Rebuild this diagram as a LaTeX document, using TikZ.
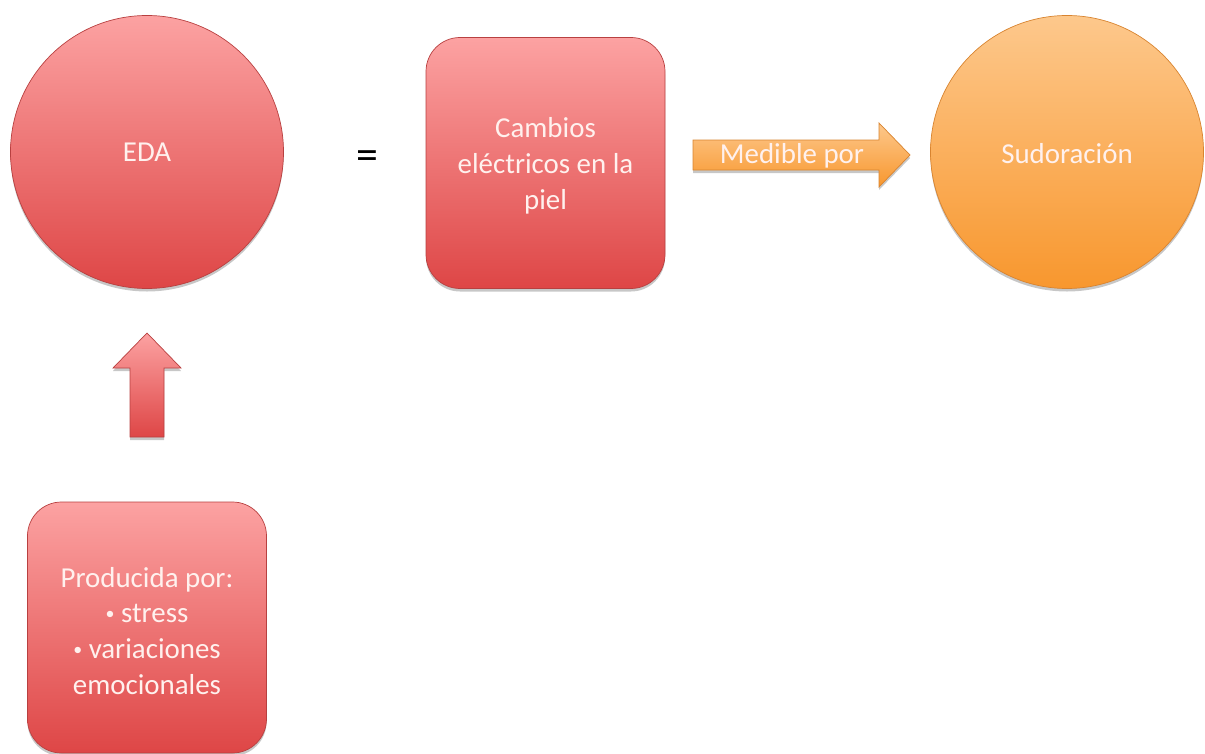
\documentclass[tikz,border=0pt]{standalone}
\usepackage{fontspec}
\usepackage{graphicx}
\setmainfont{Carlito}
\usetikzlibrary{shadows}
\definecolor{redtop}{HTML}{FCA2A2}
\definecolor{redbot}{HTML}{DE4646}
\definecolor{redline}{HTML}{B84040}
\definecolor{ortop}{HTML}{FDC88C}
\definecolor{orbot}{HTML}{F8972E}
\definecolor{orline}{HTML}{D88430}
\definecolor{txt}{HTML}{FFF1EE}
\newcommand{\smallbul}{\raisebox{0.13em}{\scalebox{0.62}{•}}}
\tikzset{
  redfill/.style={top color=redtop, bottom color=redbot, draw=redline, line width=0.7bp,
    drop shadow={shadow xshift=0bp, shadow yshift=-3bp, opacity=0.22, fill=black}},
  orfill/.style={top color=ortop, bottom color=orbot, draw=orline, line width=0.7bp,
    drop shadow={shadow xshift=0bp, shadow yshift=-3bp, opacity=0.22, fill=black}},
  lbl/.style={text=txt, font=\fontsize{29}{36}\selectfont, align=center},
  bigcircle/.style={circle, minimum size=273bp, inner sep=0pt},
  roundbox/.style={rectangle, rounded corners=34bp, minimum width=239bp, minimum height=251bp, inner sep=0pt}
}
\begin{document}
\begin{tikzpicture}[x=1bp, y=-1bp]
\useasboundingbox (0,0) rectangle (1205,754);
% main shapes
\node[bigcircle, redfill, lbl] (eda) at (147,152) {EDA};
\node[font=\fontsize{44}{44}\selectfont, inner sep=0pt] (eq) at (367,160) {=};
\node[roundbox, redfill] (cambios) at (545.5,163) {};
\node[lbl] (cambiostxt) at (545.5,166) {Cambios\\eléctricos en la\\piel};
\node[bigcircle, orfill] (sudor) at (1067,152) {};
\node[lbl] (sudortxt) at (1067,154) {Sudoración};
\node[roundbox, redfill] (prod) at (147,627.5) {};
\node[lbl] (prodtxt) at (147,631) {Producida por:\\\smallbul\ stress\\\smallbul\ variaciones\\emocionales};
% block arrow "Medible por"
\path[orfill] (693,140) -- (879,140) -- (879,123) -- (910,155) -- (879,187) -- (879,170) -- (693,170) -- cycle;
\node[lbl, inner sep=0pt] (medible) at (792,156) {Medible por};
% up block arrow
\path[redfill] (130,437) -- (130,368) -- (113,368) -- (147,333) -- (181,368) -- (164,368) -- (164,437) -- cycle;
\end{tikzpicture}
\end{document}
